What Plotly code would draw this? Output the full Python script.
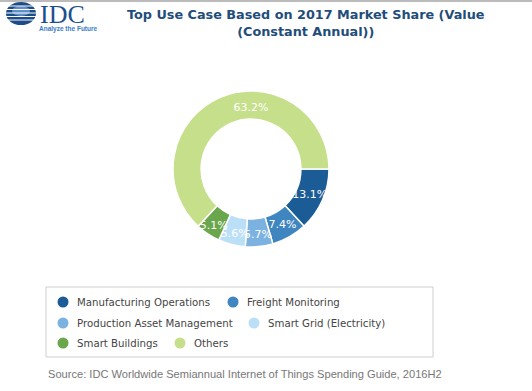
import plotly.graph_objects as go

categories = ["Manufacturing Operations", "Freight Monitoring", "Production Asset Management",
              "Smart Grid (Electricity)", "Smart Buildings", "Others"]
values = [13.1, 7.4, 5.7, 5.6, 5.1, 63.2]
colors = ["#1b5c97", "#3f85c0", "#7cb2df", "#bcdff8", "#6aa64b", "#c6df8b"]

title_text = "Top Use Case Based on 2017 Market Share (Value<br>(Constant Annual))"
source_text = "Source: IDC Worldwide Semiannual Internet of Things Spending Guide, 2016H2"

# page layout (pixel positions in the page) for the hand-drawn legend
legend_x = [63, 233, 63, 254, 63, 180]
legend_y = [302, 302, 323, 323, 343, 343]

W, H = 532, 391

fig = go.Figure()
fig.add_trace(go.Pie(
    labels=categories, values=values, sort=False, direction="clockwise", rotation=90,
    hole=0.64, marker=dict(colors=colors, line=dict(color="white", width=1.5)),
    texttemplate="%{value:.1f}%", textposition="inside", insidetextorientation="horizontal",
    textfont=dict(color="white", size=11, family="DejaVu Sans"),
    showlegend=False, hoverinfo="label+value",
    domain=dict(x=[173 / W, 329 / W], y=[(H - 247) / H, (H - 91) / H]),
))
# legend markers
fig.add_trace(go.Scatter(x=legend_x, y=legend_y, mode="markers", showlegend=False,
                         hoverinfo="skip",
                         marker=dict(symbol="circle", size=11, color=colors, line=dict(width=0))))

annotations = []
for c, x, y in zip(categories, legend_x, legend_y):
    annotations.append(dict(text=c, x=x + 12, y=y, xref="x", yref="y", xanchor="left",
                            yanchor="middle", showarrow=False,
                            font=dict(family="DejaVu Sans", size=10.2, color="#444")))
annotations += [
    dict(text="<b>" + title_text + "</b>", xref="x", yref="y", x=306, y=5,
         xanchor="center", yanchor="top", showarrow=False,
         font=dict(family="DejaVu Sans", size=12.8, color="#1f4d7b"), align="center"),
    dict(text=source_text, xref="x", yref="y", x=46, y=374, xanchor="left", yanchor="middle",
         showarrow=False, font=dict(family="Liberation Sans, Arial", size=11.1, color="#777")),
    dict(text="IDC", xref="x", yref="y", x=38, y=14, xanchor="left", yanchor="middle",
         showarrow=False, font=dict(family="Liberation Serif", size=26, color="#1c4f8e")),
    dict(text="<b>Analyze the Future</b>", xref="x", yref="y", x=37, y=28.5, xanchor="left",
         yanchor="middle", showarrow=False,
         font=dict(family="Liberation Sans", size=6.5, color="#3b7cc6")),
]

shapes = [
    dict(type="line", xref="x", yref="y", x0=0, x1=W, y0=1, y1=1,
         line=dict(color="#bbbbbb", width=2)),
    dict(type="rect", xref="x", yref="y", x0=46, x1=433, y0=287, y1=357,
         line=dict(color="#cfcfcf", width=1), fillcolor="rgba(0,0,0,0)", layer="below"),
    dict(type="circle", xref="x", yref="y", x0=6, x1=36, y0=2, y1=25,
         fillcolor="#1d4d86", line=dict(width=0)),
    dict(type="circle", xref="x", yref="y", x0=12, x1=30, y0=6, y1=16,
         fillcolor="#5f8fc4", line=dict(width=0)),
] + [
    dict(type="line", xref="x", yref="y", x0=2, x1=40, y0=yy, y1=yy,
         line=dict(color="white", width=1))
    for yy in [6, 9.5, 13, 16.5, 20]
]

fig.update_layout(
    width=W, height=H, margin=dict(l=0, r=0, t=0, b=0),
    paper_bgcolor="white", plot_bgcolor="rgba(0,0,0,0)",
    xaxis=dict(visible=False, range=[0, W], fixedrange=True),
    yaxis=dict(visible=False, range=[H, 0], fixedrange=True),
    uniformtext=dict(minsize=11, mode="show"),
    annotations=annotations, shapes=shapes, showlegend=False,
)
fig.write_html("out.html", config={"displayModeBar": False},
               post_script="document.body.style.margin='0';")
